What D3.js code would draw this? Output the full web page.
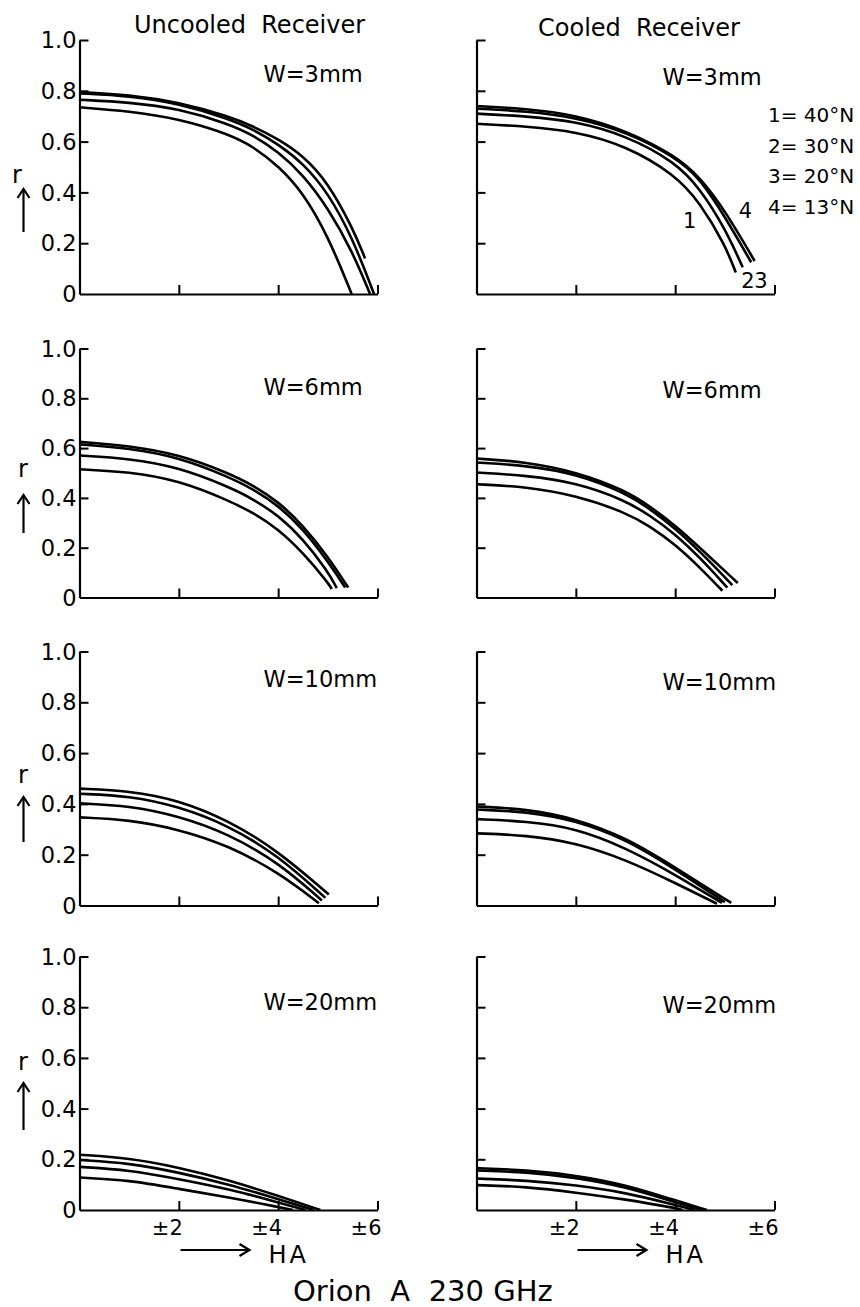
<!DOCTYPE html>
<html>
<head>
<meta charset="utf-8">
<script src="https://cdn.jsdelivr.net/npm/d3@7"></script>
<style>
  html, body { margin: 0; padding: 0; background: #fff; }
  svg { display: block; }
  text { font-family: "DejaVu Sans", sans-serif; fill: #000; white-space: pre; }
</style>
</head>
<body>
<svg id="chart" width="860" height="1307"></svg>
<script>
// ---------------- data ----------------
const receivers = ["Uncooled  Receiver", "Cooled  Receiver"];
const widths = ["W=3mm", "W=6mm", "W=10mm", "W=20mm"];
const latitudes = ["40°N", "30°N", "20°N", "13°N"];
const yTicks = [0.2, 0.4, 0.6, 0.8, 1.0];
const yTickLabels = ["0", "0.2", "0.4", "0.6", "0.8", "1.0"];
const yLabelValues = [0, 0.2, 0.4, 0.6, 0.8, 1.0];
const xTicks = [2, 4, 6];
const xTickLabels = ["±2", "±4", "±6"];
const title = "Orion  A  230 GHz";

// each panel: curves for latitude 1..4, points [HA (h), r]
const uncooled3mm = [
  [[0,0.735],[1,0.72],[2,0.69],[3,0.63],[3.5,0.58],[4,0.505],[4.5,0.40],[5,0.23],[5.48,0]],
  [[0,0.765],[1,0.755],[2,0.73],[3,0.67],[3.5,0.625],[4,0.56],[4.5,0.47],[5,0.34],[5.5,0.165],[5.85,0]],
  [[0,0.79],[1,0.78],[2,0.75],[3,0.69],[3.5,0.648],[4,0.59],[4.5,0.515],[5,0.40],[5.5,0.22],[5.93,0]],
  [[0,0.795],[1,0.785],[2,0.755],[3,0.70],[3.5,0.66],[4,0.61],[4.5,0.545],[5,0.44],[5.5,0.26],[5.75,0.14]]
];
const cooled3mm = [
  [[0,0.67],[1,0.66],[2,0.64],[3,0.585],[4,0.47],[4.5,0.36],[5,0.195],[5.22,0.085]],
  [[0,0.71],[1,0.70],[2,0.68],[3,0.625],[4,0.52],[4.5,0.415],[5,0.26],[5.36,0.105]],
  [[0,0.73],[1,0.72],[2,0.695],[3,0.64],[4,0.54],[4.5,0.455],[5,0.305],[5.53,0.125]],
  [[0,0.74],[1,0.73],[2,0.705],[3,0.645],[4,0.545],[4.5,0.46],[5,0.33],[5.6,0.13]]
];
const uncooled6mm = [
  [[0,0.515],[1,0.505],[2,0.47],[3,0.39],[3.5,0.34],[4,0.275],[4.5,0.18],[5,0.06],[5.08,0.034]],
  [[0,0.57],[1,0.558],[2,0.523],[3,0.445],[3.5,0.395],[4,0.33],[4.5,0.235],[5,0.105],[5.18,0.038]],
  [[0,0.615],[1,0.60],[2,0.563],[3,0.485],[3.5,0.435],[4,0.37],[4.5,0.275],[5,0.145],[5.35,0.04]],
  [[0,0.625],[1,0.61],[2,0.575],[3,0.50],[3.5,0.45],[4,0.385],[4.5,0.29],[5,0.165],[5.41,0.04]]
];
const cooled6mm = [
  [[0,0.455],[1,0.445],[2,0.41],[3,0.342],[3.5,0.285],[4,0.213],[4.5,0.12],[4.95,0.027]],
  [[0,0.502],[1,0.49],[2,0.462],[3,0.39],[3.5,0.328],[4,0.255],[4.5,0.16],[5.05,0.04]],
  [[0,0.542],[1,0.53],[2,0.498],[3,0.42],[3.5,0.355],[4,0.278],[4.5,0.185],[5.15,0.05]],
  [[0,0.558],[1,0.545],[2,0.505],[3,0.43],[3.5,0.365],[4,0.29],[4.5,0.2],[5.26,0.058]]
];
const uncooled10mm = [
  [[0,0.347],[1,0.338],[2,0.30],[3,0.236],[4,0.131],[4.82,0.009]],
  [[0,0.402],[1,0.393],[2,0.352],[3,0.282],[4,0.17],[4.88,0.02]],
  [[0,0.44],[1,0.432],[2,0.39],[3,0.315],[4,0.197],[4.95,0.03]],
  [[0,0.46],[1,0.452],[2,0.415],[3,0.335],[4,0.215],[5.02,0.043]]
];
const cooled10mm = [
  [[0,0.284],[1,0.277],[2,0.247],[3,0.181],[4,0.089],[4.84,0.007]],
  [[0,0.34],[1,0.332],[2,0.305],[3,0.228],[4,0.122],[4.94,0.01]],
  [[0,0.378],[1,0.37],[2,0.335],[3,0.262],[4,0.143],[5.0,0.013]],
  [[0,0.39],[1,0.38],[2,0.342],[3,0.268],[4,0.15],[5.13,0.01]]
];
const uncooled20mm = [
  [[0,0.128],[1,0.118],[2,0.083],[3,0.05],[4,0.012],[4.3,0]],
  [[0,0.17],[1,0.158],[2,0.122],[3,0.083],[4,0.03],[4.55,0]],
  [[0,0.197],[1,0.185],[2,0.148],[3,0.102],[4,0.043],[4.72,0]],
  [[0,0.218],[1,0.205],[2,0.168],[3,0.118],[4,0.056],[4.85,0]]
];
const cooled20mm = [
  [[0,0.098],[1,0.092],[2,0.069],[3,0.042],[4,0.008],[4.15,0]],
  [[0,0.124],[1,0.117],[2,0.098],[3,0.069],[4,0.02],[4.4,0]],
  [[0,0.156],[1,0.15],[2,0.128],[3,0.092],[4,0.03],[4.55,0]],
  [[0,0.165],[1,0.158],[2,0.137],[3,0.10],[4,0.038],[4.64,0]]
];
// curve tags in the cooled 3 mm panel: [tag, HA, r]
const curveTags = [["1", 4.16, 0.26], ["4", 5.28, 0.30], ["2", 5.33, 0.024], ["3", 5.59, 0.024]];

// ---------------- layout ----------------
const grid = [
  [uncooled3mm, cooled3mm],
  [uncooled6mm, cooled6mm],
  [uncooled10mm, cooled10mm],
  [uncooled20mm, cooled20mm]
];
const colX = [79.5, 476.5];
const panelW = 298;
const rowY = [[40, 294], [348.5, 597.5], [651.5, 905.5], [956.5, 1210]];
const wLabelDy = [42, 46.5, 35.5, 53.5];
const rLabel = [[12, 183, 232, 189], [18, 477, 533, 495], [18, 783, 842, 797], [18, 1070, 1130, 1083]];

const svg = d3.select("#chart");
const line = d3.line().curve(d3.curveBasis);

function upArrow(g, x, y1, y2) {
  g.append("line").attr("x1", x).attr("x2", x).attr("y1", y1).attr("y2", y2 + 1)
    .attr("stroke", "#000").attr("stroke-width", 2.2);
  g.append("path").attr("d", `M${x - 6},${y2 + 9} L${x},${y2} L${x + 6},${y2 + 9}`)
    .attr("fill", "none").attr("stroke", "#000").attr("stroke-width", 2.2);
}
function rightArrow(g, x1, x2, y) {
  g.append("line").attr("x1", x1).attr("x2", x2 - 1).attr("y1", y).attr("y2", y)
    .attr("stroke", "#000").attr("stroke-width", 2.2);
  g.append("path").attr("d", `M${x2 - 10},${y - 6} L${x2},${y} L${x2 - 10},${y + 6}`)
    .attr("fill", "none").attr("stroke", "#000").attr("stroke-width", 2.2);
}

grid.forEach((row, ri) => {
  row.forEach((curves, ci) => {
    const x0 = colX[ci];
    const [top, bottom] = rowY[ri];
    const x = d3.scaleLinear().domain([0, 6]).range([x0, x0 + panelW]);
    const y = d3.scaleLinear().domain([0, 1]).range([bottom, top]);
    const g = svg.append("g");

    // y axis: ticks inward
    const yAx = g.append("g").attr("transform", `translate(${x0},0)`)
      .call(d3.axisRight(y).tickValues(yTicks).tickSize(9).tickSizeOuter(0).tickFormat(""));
    yAx.select(".domain").attr("stroke-width", 2.2);
    yAx.selectAll(".tick line").attr("stroke-width", 2);

    // x axis: ticks upward
    const xAx = g.append("g").attr("transform", `translate(0,${bottom})`)
      .call(d3.axisTop(x).tickValues(xTicks).tickSize(9).tickSizeOuter(0).tickFormat(""));
    xAx.select(".domain").attr("stroke-width", 2.2);
    xAx.selectAll(".tick line").attr("stroke-width", 2);

    // y tick labels only on left column
    if (ci === 0) {
      g.selectAll(".ylab").data(yLabelValues).enter().append("text")
        .attr("x", x0 - 3).attr("y", d => y(d)).attr("dy", "0.36em")
        .attr("text-anchor", "end").style("font-size", "22.5px")
        .text((d, i) => yTickLabels[i]);
      const [rx, rb, a1, a2] = rLabel[ri];
      g.append("text").attr("x", rx).attr("y", rb).style("font-size", "24px").text("r");
      upArrow(g, 23.5, a1, a2);
    }

    // x tick labels on bottom row
    if (ri === grid.length - 1) {
      g.selectAll(".xlab").data(xTicks).enter().append("text")
        .attr("x", d => x(d) + 4).attr("y", bottom + 25)
        .attr("text-anchor", "end").style("font-size", "21px")
        .text((d, i) => xTickLabels[i]);
      rightArrow(g, x0 + 101, x0 + 170, bottom + 40);
      g.append("text").attr("x", x0 + 189).attr("y", bottom + 53)
        .style("font-size", "24px").style("letter-spacing", "3px").text("HA");
    }

    // W label
    g.append("text").attr("x", x0 + 184 + (ci ? 2 : 0)).attr("y", top + wLabelDy[ri] + (ci ? 2.5 : 0))
      .style("font-size", "22.5px").text(widths[ri]);

    // curves
    g.selectAll(".curve").data(curves).enter().append("path")
      .attr("d", d => line(d.map(p => [x(p[0]), y(p[1])])))
      .attr("fill", "none").attr("stroke", "#000").attr("stroke-width", 2.6)
      .attr("stroke-linecap", "butt");

    if (ri === 0 && ci === 1) {
      g.selectAll(".tag").data(curveTags).enter().append("text")
        .attr("x", d => x(d[1])).attr("y", d => y(d[2]))
        .style("font-size", "21px").text(d => d[0]);
      g.selectAll(".leg").data(latitudes).enter().append("text")
        .attr("x", 768).attr("y", (d, i) => 122 + i * 30.7)
        .style("font-size", "20px").text((d, i) => `${i + 1}= ${d}`);
    }
  });
});

// column titles
svg.append("text").attr("x", 134).attr("y", 33).style("font-size", "24px").text(receivers[0]);
svg.append("text").attr("x", 538).attr("y", 36).style("font-size", "24px").text(receivers[1]);
// figure title
svg.append("text").attr("x", 293).attr("y", 1301).style("font-size", "29px").text(title);
</script>
</body>
</html>
